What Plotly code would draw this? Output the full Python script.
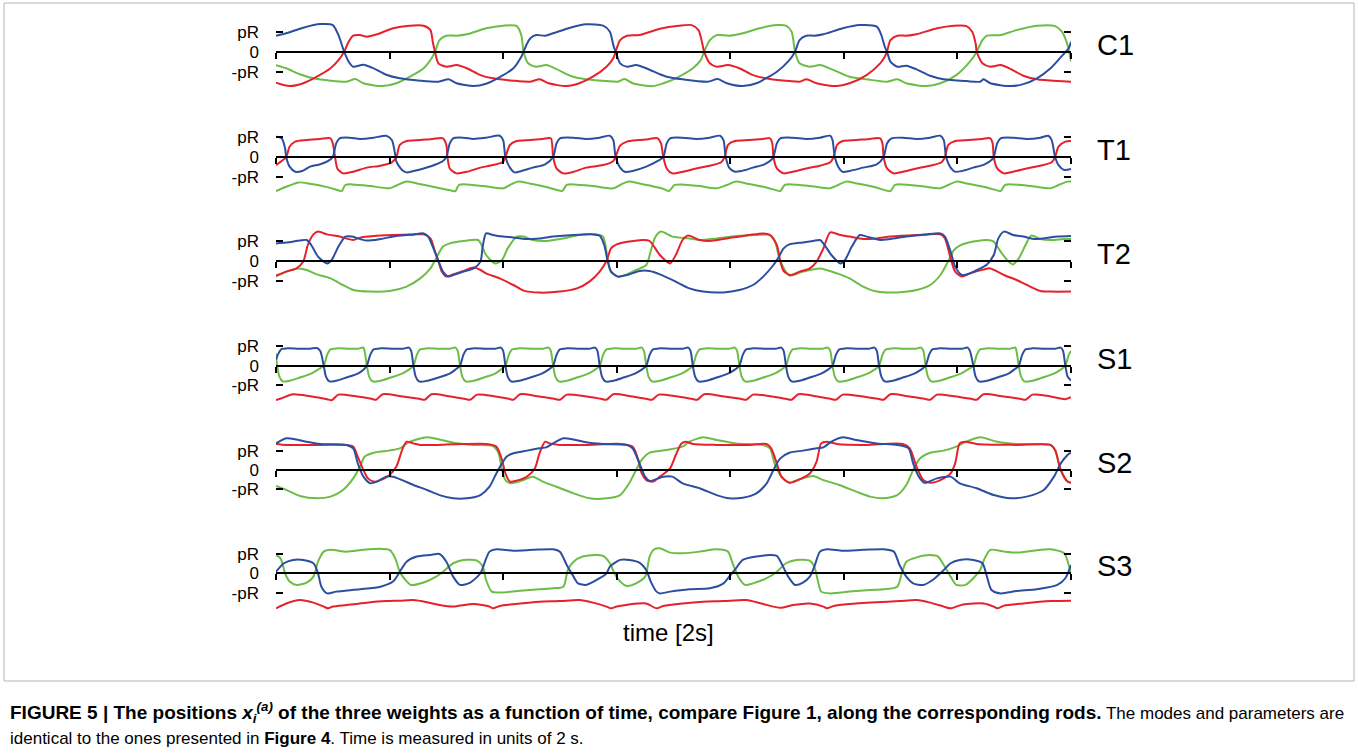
import plotly.graph_objects as go

# ---------------- data (time in units of 2 s, position in units of pR) ----------------
TIME_TICKS = [0, 1, 2, 3, 4, 5, 6, 7]
Y_TICK_VALUES = [-1, 0, 1]
Y_TICK_TEXT = ["-pR", "0", "pR"]
PANEL_LABELS = ["C1", "T1", "T2", "S1", "S2", "S3"]

C1_BLUE = [(0,0.8),(0.09,0.92),(0.24,1.2),(0.39,1.38),(0.5,1.33),(0.55,0.83),(0.6,0),(0.64,-0.5),(0.68,-0.75),(0.77,-0.65),(0.86,-0.83),(0.97,-1.15),(1.09,-1.33),(1.27,-1.45),(1.43,-1.5),(1.52,-1.38),(1.59,-1.58),(1.74,-1.72),(1.85,-1.6),(1.97,-1.27),(2.09,-0.83),(2.16,-0.25),(2.18,0),(2.21,0.4),(2.24,0.67),(2.29,0.83),(2.37,0.8),(2.44,0.92),(2.59,1.2),(2.73,1.37),(2.88,1.3),(2.94,1.0),(2.97,0.33),(2.99,0),(3.03,-0.58),(3.09,-0.75),(3.17,-0.67),(3.26,-0.83),(3.38,-1.13),(3.44,-1.25),(3.58,-1.38),(3.8,-1.5),(3.89,-1.37),(3.97,-1.58),(4.11,-1.72),(4.23,-1.58),(4.41,-1.0),(4.52,-0.42),(4.57,0),(4.61,0.58),(4.67,0.8),(4.74,0.8),(4.82,0.87),(4.99,1.17),(5.14,1.33),(5.29,1.25),(5.33,0.83),(5.36,0.25),(5.38,0),(5.41,-0.5),(5.47,-0.75),(5.55,-0.7),(5.64,-0.88),(5.76,-1.2),(5.88,-1.38),(6.08,-1.47),(6.2,-1.5),(6.23,-1.38),(6.29,-1.58),(6.47,-1.72),(6.58,-1.62),(6.7,-1.33),(6.82,-0.83),(6.94,-0.08),(6.98,0.17),(7.0,0.5)]
C1_RED = [(0,-1.55),(0.12,-1.72),(0.24,-1.58),(0.36,-1.25),(0.48,-0.83),(0.55,-0.42),(0.6,0),(0.64,0.5),(0.68,0.8),(0.74,0.83),(0.8,0.75),(0.89,0.87),(1.03,1.17),(1.18,1.3),(1.3,1.3),(1.36,1.08),(1.38,0.5),(1.4,0),(1.43,-0.58),(1.5,-0.75),(1.59,-0.67),(1.68,-0.83),(1.8,-1.17),(1.91,-1.33),(2.09,-1.45),(2.24,-1.5),(2.32,-1.38),(2.4,-1.58),(2.56,-1.72),(2.67,-1.58),(2.79,-1.25),(2.91,-0.75),(2.97,-0.33),(2.99,0),(3.03,0.58),(3.09,0.8),(3.2,0.83),(3.38,1.15),(3.55,1.3),(3.66,1.33),(3.72,1.08),(3.75,0.5),(3.77,0),(3.82,-0.58),(3.88,-0.75),(3.98,-0.67),(4.08,-0.83),(4.2,-1.17),(4.35,-1.37),(4.52,-1.47),(4.61,-1.5),(4.67,-1.38),(4.76,-1.58),(4.94,-1.72),(5.05,-1.58),(5.2,-1.17),(5.32,-0.58),(5.36,-0.25),(5.38,0),(5.41,0.58),(5.47,0.8),(5.55,0.8),(5.64,0.87),(5.82,1.17),(5.97,1.3),(6.08,1.28),(6.13,1.0),(6.16,0.42),(6.17,0),(6.22,-0.58),(6.29,-0.75),(6.38,-0.67),(6.47,-0.87),(6.58,-1.2),(6.7,-1.38),(6.88,-1.47),(7.0,-1.5)]
C1_GREEN = [(0,-0.67),(0.09,-0.83),(0.21,-1.13),(0.33,-1.33),(0.48,-1.45),(0.62,-1.5),(0.7,-1.37),(0.77,-1.58),(0.94,-1.72),(1.06,-1.58),(1.18,-1.25),(1.3,-0.83),(1.37,-0.33),(1.4,0),(1.44,0.58),(1.5,0.8),(1.59,0.8),(1.68,0.87),(1.85,1.17),(2.0,1.3),(2.12,1.28),(2.16,0.83),(2.18,0),(2.22,-0.58),(2.29,-0.75),(2.38,-0.67),(2.47,-0.87),(2.59,-1.2),(2.73,-1.38),(2.91,-1.47),(3.01,-1.5),(3.07,-1.37),(3.14,-1.58),(3.32,-1.72),(3.41,-1.58),(3.52,-1.33),(3.67,-0.83),(3.74,-0.42),(3.77,0),(3.82,0.58),(3.88,0.83),(3.99,0.8),(4.11,0.92),(4.26,1.17),(4.41,1.33),(4.49,1.3),(4.54,1.0),(4.57,0),(4.61,-0.58),(4.7,-0.75),(4.79,-0.67),(4.91,-0.92),(5.05,-1.25),(5.2,-1.38),(5.38,-1.5),(5.47,-1.38),(5.55,-1.58),(5.73,-1.72),(5.85,-1.58),(5.99,-1.17),(6.11,-0.5),(6.17,0),(6.22,0.58),(6.26,0.8),(6.38,0.83),(6.52,1.08),(6.7,1.3),(6.86,1.28),(6.92,1.0),(6.97,0.33),(7.0,-0.5)]

T1_BLUE = [(0,1.03),(0.05,0.95),(0.08,0.44),(0.09,0),(0.12,-0.49),(0.17,-0.75),(0.23,-0.71),(0.3,-0.49),(0.39,-0.37),(0.46,-0.2),(0.5,0),(0.53,0.69),(0.56,0.95),(0.65,0.98),(0.74,0.92),(0.86,0.98),(0.97,1.08),(1.02,0.86),(1.05,0.1),(1.06,-0.24),(1.11,-0.66),(1.15,-0.78),(1.21,-0.71),(1.3,-0.58),(1.41,-0.37),(1.47,-0.2),(1.5,0),(1.53,0.69),(1.56,0.95),(1.65,0.98),(1.74,0.92),(1.85,0.98),(1.97,1.08),(2.0,0.86),(2.02,0),(2.06,-0.54),(2.1,-0.78),(2.16,-0.71),(2.26,-0.54),(2.37,-0.37),(2.44,0),(2.47,0.69),(2.5,0.95),(2.62,0.98),(2.73,0.92),(2.85,0.98),(2.94,1.08),(2.97,0.86),(2.99,0),(3.03,-0.54),(3.07,-0.75),(3.14,-0.71),(3.26,-0.49),(3.35,-0.24),(3.41,0),(3.44,0.69),(3.47,0.95),(3.58,0.98),(3.7,0.92),(3.82,0.98),(3.91,1.08),(3.94,0.86),(3.96,0),(3.99,-0.54),(4.04,-0.75),(4.1,-0.71),(4.2,-0.54),(4.3,-0.37),(4.36,-0.15),(4.38,0),(4.41,0.69),(4.44,0.95),(4.55,0.98),(4.67,0.92),(4.79,0.98),(4.88,1.08),(4.9,0.86),(4.92,0),(4.95,-0.49),(4.99,-0.75),(5.05,-0.71),(5.17,-0.54),(5.29,-0.37),(5.35,0),(5.38,0.69),(5.42,0.95),(5.52,0.98),(5.64,0.92),(5.76,0.98),(5.85,1.08),(5.88,0.86),(5.9,0),(5.94,-0.54),(5.98,-0.75),(6.04,-0.71),(6.14,-0.54),(6.24,-0.37),(6.3,-0.15),(6.32,0),(6.35,0.69),(6.38,0.95),(6.49,0.98),(6.61,0.92),(6.73,0.98),(6.8,1.08),(6.83,0.86),(6.86,0),(6.89,-0.41),(6.94,-0.66),(7.0,-0.61)]
T1_RED = [(0,-0.41),(0.05,-0.2),(0.09,0),(0.12,0.53),(0.17,0.78),(0.27,0.86),(0.39,0.92),(0.48,0.95),(0.5,0.69),(0.52,0),(0.54,-0.58),(0.59,-0.83),(0.68,-0.75),(0.8,-0.54),(0.92,-0.44),(1.02,-0.27),(1.06,0),(1.09,0.61),(1.15,0.81),(1.27,0.86),(1.38,0.92),(1.47,0.95),(1.5,0.61),(1.51,0),(1.53,-0.58),(1.59,-0.83),(1.68,-0.75),(1.8,-0.54),(1.91,-0.41),(2.0,-0.24),(2.02,0),(2.06,0.61),(2.12,0.81),(2.24,0.86),(2.35,0.92),(2.42,0.95),(2.44,0),(2.47,-0.58),(2.53,-0.83),(2.62,-0.75),(2.73,-0.54),(2.88,-0.41),(2.97,-0.2),(2.99,0),(3.03,0.58),(3.09,0.78),(3.2,0.86),(3.29,0.92),(3.36,0.95),(3.39,0.69),(3.41,0),(3.44,-0.58),(3.49,-0.83),(3.58,-0.75),(3.7,-0.58),(3.82,-0.44),(3.92,-0.27),(3.95,0),(3.98,0.61),(4.04,0.81),(4.17,0.86),(4.29,0.92),(4.35,0.95),(4.37,0.69),(4.38,0),(4.41,-0.58),(4.47,-0.83),(4.55,-0.75),(4.67,-0.58),(4.79,-0.44),(4.88,-0.27),(4.91,0),(4.94,0.61),(4.99,0.81),(5.11,0.86),(5.23,0.92),(5.32,0.95),(5.34,0.69),(5.35,0),(5.38,-0.58),(5.44,-0.83),(5.52,-0.75),(5.64,-0.58),(5.76,-0.44),(5.86,-0.27),(5.89,0),(5.92,0.61),(5.98,0.81),(6.1,0.86),(6.22,0.92),(6.29,0.95),(6.31,0.69),(6.32,0),(6.35,-0.58),(6.41,-0.83),(6.49,-0.75),(6.61,-0.58),(6.73,-0.44),(6.83,-0.27),(6.86,0),(6.89,0.53),(6.95,0.78),(7.0,0.81)]
T1_GREEN = [(0,-1.73),(0.09,-1.51),(0.2,-1.29),(0.3,-1.36),(0.45,-1.53),(0.56,-1.71),(0.58,-1.73),(0.61,-1.42),(0.67,-1.39),(0.83,-1.47),(1.0,-1.59),(1.07,-1.42),(1.15,-1.25),(1.24,-1.34),(1.38,-1.51),(1.55,-1.71),(1.58,-1.73),(1.61,-1.42),(1.67,-1.39),(1.82,-1.47),(2.0,-1.59),(2.06,-1.42),(2.13,-1.25),(2.23,-1.34),(2.37,-1.51),(2.5,-1.71),(2.52,-1.73),(2.56,-1.42),(2.62,-1.39),(2.79,-1.47),(2.97,-1.59),(3.03,-1.42),(3.1,-1.25),(3.2,-1.34),(3.29,-1.45),(3.41,-1.62),(3.46,-1.73),(3.51,-1.42),(3.57,-1.39),(3.73,-1.47),(3.88,-1.59),(3.97,-1.42),(4.05,-1.25),(4.14,-1.34),(4.29,-1.51),(4.42,-1.71),(4.44,-1.73),(4.48,-1.42),(4.54,-1.39),(4.7,-1.47),(4.88,-1.59),(4.95,-1.42),(5.02,-1.25),(5.11,-1.34),(5.26,-1.51),(5.38,-1.71),(5.41,-1.73),(5.45,-1.42),(5.51,-1.39),(5.67,-1.47),(5.85,-1.59),(5.92,-1.42),(5.99,-1.25),(6.08,-1.34),(6.23,-1.51),(6.36,-1.71),(6.38,-1.73),(6.42,-1.42),(6.48,-1.39),(6.64,-1.47),(6.82,-1.59),(6.89,-1.42),(6.97,-1.25),(7.0,-1.25)]

T2_BLUE = [(0,0.88),(0.09,0.92),(0.21,1.02),(0.27,1.05),(0.31,0.8),(0.37,0.22),(0.42,-0.03),(0.45,-0.12),(0.49,0.05),(0.55,0.72),(0.61,1.22),(0.67,1.22),(0.74,1.1),(0.8,1.02),(0.92,1.1),(1.06,1.25),(1.21,1.33),(1.3,1.38),(1.34,1.22),(1.38,0.72),(1.43,0),(1.47,-0.53),(1.52,-0.78),(1.56,-0.7),(1.65,-0.53),(1.74,-0.37),(1.8,-0.03),(1.82,0.72),(1.85,1.38),(1.91,1.3),(2.0,1.22),(2.09,1.18),(2.2,1.1),(2.32,1.13),(2.44,1.22),(2.62,1.3),(2.79,1.33),(2.85,1.27),(2.89,0.8),(2.92,0),(2.95,-0.53),(3.01,-0.78),(3.09,-0.7),(3.2,-0.5),(3.29,-0.5),(3.38,-0.67),(3.52,-1.03),(3.64,-1.37),(3.76,-1.53),(3.94,-1.57),(4.08,-1.45),(4.2,-1.2),(4.29,-0.78),(4.38,-0.2),(4.42,0.13),(4.47,0.63),(4.52,0.83),(4.64,0.93),(4.73,1.0),(4.79,1.05),(4.83,0.8),(4.89,0.3),(4.97,-0.12),(5.01,0.05),(5.07,0.72),(5.14,1.3),(5.2,1.22),(5.32,1.05),(5.41,1.1),(5.55,1.22),(5.73,1.33),(5.85,1.38),(5.89,1.22),(5.94,0.47),(5.98,-0.28),(6.04,-0.7),(6.11,-0.62),(6.2,-0.37),(6.26,-0.17),(6.32,0.3),(6.36,1.13),(6.41,1.47),(6.49,1.3),(6.58,1.22),(6.67,1.1),(6.76,1.13),(6.88,1.22),(7.0,1.25)]
T2_RED = [(0,-0.73),(0.09,-0.53),(0.18,-0.37),(0.24,-0.03),(0.28,0.8),(0.33,1.33),(0.37,1.47),(0.45,1.33),(0.56,1.22),(0.68,1.05),(0.74,1.17),(0.86,1.25),(1.03,1.3),(1.21,1.33),(1.3,1.33),(1.36,1.13),(1.4,0.47),(1.43,0),(1.46,-0.53),(1.5,-0.78),(1.56,-0.67),(1.65,-0.5),(1.74,-0.33),(1.8,-0.45),(1.85,-0.62),(1.97,-0.87),(2.09,-1.2),(2.18,-1.48),(2.32,-1.58),(2.5,-1.53),(2.65,-1.37),(2.76,-1.03),(2.85,-0.53),(2.91,0),(2.95,0.63),(3.0,0.83),(3.11,0.97),(3.23,1.05),(3.29,1.0),(3.38,0.3),(3.47,-0.12),(3.52,0.3),(3.58,1.05),(3.63,1.27),(3.73,1.05),(3.82,1.0),(3.97,1.13),(4.17,1.3),(4.29,1.38),(4.35,1.3),(4.41,0.8),(4.44,0),(4.47,-0.5),(4.53,-0.7),(4.61,-0.53),(4.7,-0.37),(4.76,-0.03),(4.82,0.63),(4.88,1.43),(4.97,1.3),(5.05,1.22),(5.17,1.1),(5.29,1.13),(5.41,1.22),(5.64,1.3),(5.85,1.33),(5.89,1.13),(5.94,0.13),(5.98,-0.53),(6.04,-0.78),(6.11,-0.62),(6.23,-0.42),(6.29,-0.37),(6.41,-0.7),(6.52,-0.95),(6.64,-1.28),(6.73,-1.5),(6.82,-1.53),(7.0,-1.53)]
T2_GREEN = [(0,-0.78),(0.09,-0.53),(0.21,-0.37),(0.27,-0.45),(0.36,-0.67),(0.48,-0.87),(0.59,-1.2),(0.68,-1.45),(0.83,-1.53),(1.0,-1.5),(1.15,-1.28),(1.27,-0.87),(1.36,-0.37),(1.41,0.13),(1.47,0.72),(1.53,0.88),(1.65,1.0),(1.78,1.05),(1.81,0.8),(1.85,0.3),(1.93,-0.12),(1.99,0.05),(2.04,0.63),(2.12,1.22),(2.18,1.22),(2.26,1.05),(2.38,1.0),(2.53,1.13),(2.67,1.3),(2.82,1.33),(2.88,1.22),(2.92,0.13),(2.95,-0.53),(3.01,-0.78),(3.09,-0.67),(3.17,-0.45),(3.26,-0.2),(3.3,0.5),(3.34,1.2),(3.39,1.47),(3.49,1.22),(3.64,1.13),(3.73,1.05),(3.88,1.13),(4.05,1.25),(4.23,1.3),(4.35,1.3),(4.39,1.05),(4.44,0),(4.52,-0.73),(4.64,-0.53),(4.79,-0.37),(4.94,-0.62),(5.05,-0.87),(5.17,-1.28),(5.29,-1.53),(5.47,-1.57),(5.64,-1.45),(5.76,-1.2),(5.85,-0.7),(5.92,0),(5.97,0.55),(6.02,0.77),(6.14,0.97),(6.26,1.05),(6.32,0.97),(6.38,0.47),(6.45,-0.03),(6.49,-0.17),(6.54,0.13),(6.6,0.8),(6.65,1.27),(6.73,1.1),(6.82,1.05),(6.94,1.1),(7.0,1.1)]

S1_BLUE = [(0,0.3),(0.02,0.6),(0.05,0.85),(0.1,0.88),(0.2,0.86),(0.3,0.86),(0.36,0.9),(0.39,0.75),(0.42,0),(0.44,-0.55),(0.47,-0.8),(0.52,-0.78),(0.62,-0.6),(0.72,-0.4),(0.77,-0.2),(0.8,0),(0.83,0.55),(0.86,0.83),(0.92,0.88),(1.03,0.86),(1.12,0.86),(1.17,0.92),(1.19,0.75),(1.21,0),(1.23,-0.55),(1.26,-0.8),(1.32,-0.78),(1.43,-0.6),(1.53,-0.4),(1.58,-0.2),(1.62,0),(1.65,0.55),(1.68,0.83),(1.74,0.88),(1.84,0.86),(1.93,0.86),(1.98,0.92),(2.0,0.75),(2.02,0),(2.04,-0.55),(2.07,-0.8),(2.13,-0.78),(2.24,-0.6),(2.34,-0.4),(2.4,-0.2),(2.44,0),(2.47,0.55),(2.5,0.83),(2.56,0.88),(2.67,0.86),(2.76,0.86),(2.81,0.92),(2.83,0.75),(2.85,0),(2.87,-0.55),(2.9,-0.8),(2.96,-0.78),(3.06,-0.6),(3.16,-0.4),(3.22,-0.2),(3.26,0),(3.29,0.55),(3.32,0.83),(3.38,0.88),(3.48,0.86),(3.58,0.86),(3.63,0.92),(3.65,0.75),(3.67,0),(3.69,-0.55),(3.72,-0.8),(3.78,-0.78),(3.88,-0.6),(3.98,-0.4),(4.04,-0.2),(4.08,0),(4.11,0.55),(4.14,0.83),(4.2,0.88),(4.3,0.86),(4.4,0.86),(4.45,0.92),(4.47,0.75),(4.49,0),(4.51,-0.55),(4.54,-0.8),(4.6,-0.78),(4.7,-0.6),(4.8,-0.4),(4.86,-0.2),(4.9,0),(4.93,0.55),(4.96,0.83),(5.02,0.88),(5.12,0.86),(5.22,0.86),(5.27,0.92),(5.29,0.75),(5.31,0),(5.33,-0.55),(5.36,-0.8),(5.42,-0.78),(5.52,-0.6),(5.62,-0.4),(5.68,-0.2),(5.72,0),(5.75,0.55),(5.78,0.83),(5.84,0.88),(5.94,0.86),(6.04,0.86),(6.09,0.92),(6.11,0.75),(6.14,0),(6.16,-0.55),(6.19,-0.8),(6.25,-0.78),(6.35,-0.6),(6.45,-0.4),(6.5,-0.2),(6.54,0),(6.57,0.55),(6.6,0.83),(6.66,0.88),(6.76,0.86),(6.86,0.86),(6.91,0.92),(6.93,0.75),(6.95,0),(6.97,-0.55),(7.0,-0.75)]
S1_RED = [(0,-1.75),(0.05,-1.65),(0.15,-1.45),(0.3,-1.55),(0.45,-1.7),(0.49,-1.75),(0.55,-1.47),(0.7,-1.55),(0.84,-1.68),(0.88,-1.73),(0.94,-1.45),(1.1,-1.55),(1.26,-1.68),(1.31,-1.73),(1.37,-1.45),(1.52,-1.55),(1.66,-1.68),(1.71,-1.73),(1.77,-1.47),(1.92,-1.55),(2.05,-1.68),(2.09,-1.73),(2.15,-1.45),(2.3,-1.55),(2.45,-1.68),(2.5,-1.73),(2.56,-1.47),(2.72,-1.55),(2.86,-1.68),(2.91,-1.73),(2.97,-1.45),(3.12,-1.55),(3.26,-1.68),(3.31,-1.73),(3.37,-1.47),(3.52,-1.55),(3.66,-1.68),(3.71,-1.73),(3.77,-1.45),(3.93,-1.55),(4.09,-1.68),(4.14,-1.73),(4.2,-1.47),(4.35,-1.55),(4.49,-1.68),(4.54,-1.73),(4.6,-1.45),(4.75,-1.55),(4.88,-1.68),(4.93,-1.73),(4.99,-1.47),(5.15,-1.55),(5.3,-1.68),(5.35,-1.73),(5.41,-1.45),(5.56,-1.55),(5.71,-1.68),(5.76,-1.73),(5.82,-1.47),(5.97,-1.55),(6.12,-1.68),(6.17,-1.73),(6.23,-1.45),(6.39,-1.55),(6.55,-1.68),(6.6,-1.73),(6.66,-1.47),(6.81,-1.55),(6.95,-1.7),(7.0,-1.6)]
S1_GREEN = [(0,0.63),(0.01,0),(0.03,-0.55),(0.06,-0.8),(0.11,-0.78),(0.21,-0.6),(0.31,-0.4),(0.37,-0.2),(0.42,0),(0.45,0.55),(0.48,0.83),(0.54,0.88),(0.64,0.86),(0.72,0.86),(0.77,0.92),(0.78,0.75),(0.8,0),(0.82,-0.55),(0.85,-0.8),(0.91,-0.78),(1.01,-0.6),(1.11,-0.4),(1.17,-0.2),(1.21,0),(1.24,0.55),(1.27,0.83),(1.33,0.88),(1.43,0.86),(1.53,0.86),(1.58,0.92),(1.6,0.75),(1.62,0),(1.64,-0.55),(1.67,-0.8),(1.73,-0.78),(1.83,-0.6),(1.93,-0.4),(1.98,-0.2),(2.02,0),(2.05,0.55),(2.08,0.83),(2.14,0.88),(2.25,0.86),(2.35,0.86),(2.4,0.92),(2.42,0.75),(2.44,0),(2.46,-0.55),(2.49,-0.8),(2.55,-0.78),(2.65,-0.6),(2.75,-0.4),(2.81,-0.2),(2.85,0),(2.88,0.55),(2.91,0.83),(2.97,0.88),(3.07,0.86),(3.17,0.86),(3.22,0.92),(3.24,0.75),(3.26,0),(3.28,-0.55),(3.31,-0.8),(3.37,-0.78),(3.47,-0.6),(3.57,-0.4),(3.63,-0.2),(3.67,0),(3.7,0.55),(3.73,0.83),(3.79,0.88),(3.89,0.86),(3.99,0.86),(4.04,0.92),(4.06,0.75),(4.08,0),(4.1,-0.55),(4.13,-0.8),(4.19,-0.78),(4.29,-0.6),(4.39,-0.4),(4.45,-0.2),(4.49,0),(4.52,0.55),(4.55,0.83),(4.61,0.88),(4.71,0.86),(4.81,0.86),(4.86,0.92),(4.88,0.75),(4.9,0),(4.92,-0.55),(4.95,-0.8),(5.01,-0.78),(5.11,-0.6),(5.21,-0.4),(5.27,-0.2),(5.31,0),(5.34,0.55),(5.37,0.83),(5.43,0.88),(5.53,0.86),(5.63,0.86),(5.68,0.92),(5.7,0.75),(5.72,0),(5.74,-0.55),(5.77,-0.8),(5.83,-0.78),(5.93,-0.6),(6.03,-0.4),(6.09,-0.2),(6.14,0),(6.17,0.55),(6.2,0.83),(6.26,0.88),(6.36,0.86),(6.46,0.86),(6.51,0.92),(6.52,0.75),(6.54,0),(6.56,-0.55),(6.59,-0.8),(6.65,-0.78),(6.75,-0.6),(6.85,-0.4),(6.91,-0.2),(6.95,0),(6.98,0.55),(7.0,0.75)]

S2_BLUE = [(0,1.4),(0.09,1.67),(0.18,1.61),(0.27,1.49),(0.39,1.37),(0.62,1.32),(0.68,1.14),(0.72,0.35),(0.77,-0.35),(0.83,-0.7),(0.89,-0.61),(0.97,-0.35),(1.03,-0.35),(1.11,-0.53),(1.21,-0.79),(1.33,-1.05),(1.44,-1.32),(1.56,-1.49),(1.68,-1.49),(1.8,-1.32),(1.88,-0.88),(1.94,-0.18),(1.99,0.35),(2.03,0.7),(2.09,0.88),(2.21,1.02),(2.32,1.14),(2.38,1.19),(2.44,1.4),(2.53,1.67),(2.62,1.61),(2.73,1.46),(2.88,1.37),(3.09,1.32),(3.14,1.14),(3.2,0.35),(3.25,-0.35),(3.29,-0.58),(3.41,-0.35),(3.49,-0.35),(3.58,-0.7),(3.73,-0.96),(3.88,-1.32),(3.99,-1.49),(4.11,-1.46),(4.23,-1.23),(4.32,-0.7),(4.38,0),(4.44,0.61),(4.52,0.91),(4.64,1.02),(4.76,1.14),(4.82,1.19),(4.89,1.49),(4.99,1.72),(5.11,1.58),(5.29,1.4),(5.47,1.32),(5.57,1.14),(5.61,0.35),(5.66,-0.35),(5.71,-0.67),(5.82,-0.44),(5.94,-0.35),(6.02,-0.7),(6.17,-0.96),(6.32,-1.32),(6.47,-1.49),(6.61,-1.4),(6.76,-1.05),(6.85,-0.35),(6.91,0.35),(6.97,0.79),(7.0,0.91)]
S2_RED = [(0,1.37),(0.09,1.32),(0.39,1.32),(0.62,1.32),(0.68,1.23),(0.72,0.7),(0.77,0),(0.81,-0.44),(0.86,-0.61),(0.92,-0.53),(1.0,-0.26),(1.06,0.18),(1.11,1.05),(1.15,1.49),(1.21,1.4),(1.27,1.32),(1.56,1.35),(1.85,1.37),(1.94,1.23),(1.99,0.53),(2.02,-0.18),(2.06,-0.61),(2.12,-0.56),(2.21,-0.35),(2.28,0.09),(2.32,0.88),(2.37,1.49),(2.41,1.4),(2.5,1.32),(2.73,1.32),(3.03,1.37),(3.14,1.23),(3.19,0.53),(3.22,-0.18),(3.26,-0.53),(3.32,-0.61),(3.38,-0.35),(3.47,0.09),(3.52,0.79),(3.57,1.4),(3.61,1.49),(3.67,1.37),(3.88,1.32),(4.17,1.32),(4.32,1.37),(4.36,1.14),(4.41,0.35),(4.45,-0.35),(4.52,-0.67),(4.61,-0.49),(4.7,-0.18),(4.76,0.44),(4.8,1.4),(4.85,1.49),(4.94,1.37),(5.2,1.32),(5.52,1.37),(5.58,1.14),(5.64,0.18),(5.7,-0.53),(5.76,-0.67),(5.85,-0.53),(5.94,-0.18),(5.98,0.35),(6.02,1.4),(6.07,1.49),(6.17,1.37),(6.52,1.32),(6.82,1.32),(6.86,1.05),(6.91,0),(6.97,-0.61),(7.0,-0.67)]
S2_GREEN = [(0,-0.84),(0.09,-1.05),(0.21,-1.37),(0.36,-1.49),(0.48,-1.4),(0.59,-1.05),(0.68,-0.44),(0.74,0.18),(0.78,0.7),(0.86,0.91),(0.97,1.0),(1.09,1.14),(1.18,1.49),(1.33,1.72),(1.44,1.61),(1.56,1.44),(1.74,1.32),(1.91,1.26),(1.96,0.88),(1.99,0),(2.02,-0.53),(2.07,-0.7),(2.18,-0.53),(2.26,-0.35),(2.35,-0.61),(2.47,-0.88),(2.62,-1.23),(2.76,-1.49),(2.91,-1.49),(3.03,-1.32),(3.11,-0.7),(3.17,0),(3.22,0.53),(3.29,0.91),(3.44,1.05),(3.58,1.23),(3.64,1.49),(3.76,1.72),(3.88,1.58),(4.05,1.4),(4.29,1.32),(4.35,1.14),(4.39,0.35),(4.45,-0.35),(4.52,-0.67),(4.61,-0.49),(4.73,-0.32),(4.82,-0.53),(4.96,-0.79),(5.11,-1.14),(5.23,-1.4),(5.35,-1.49),(5.47,-1.32),(5.55,-0.79),(5.61,0),(5.67,0.61),(5.76,0.91),(5.88,1.02),(5.99,1.23),(6.08,1.49),(6.2,1.72),(6.35,1.49),(6.52,1.37),(6.82,1.32),(6.86,1.05),(6.91,0),(6.97,-0.61),(7.0,-0.67)]

S3_BLUE = [(0,0.08),(0.07,0.51),(0.15,0.68),(0.24,0.68),(0.33,0.51),(0.37,0),(0.4,-0.68),(0.45,-1.02),(0.53,-0.93),(0.74,-0.81),(0.92,-0.68),(1.03,-0.42),(1.09,0.08),(1.15,0.59),(1.24,0.85),(1.36,0.93),(1.44,0.98),(1.5,0.59),(1.56,-0.17),(1.62,-0.59),(1.71,-0.47),(1.8,0),(1.84,0.59),(1.88,1.1),(1.94,1.22),(2.09,1.15),(2.26,1.19),(2.44,1.22),(2.5,1.1),(2.56,0.42),(2.62,-0.17),(2.66,-0.51),(2.73,-0.59),(2.85,-0.25),(2.91,0),(2.94,0.34),(3.03,0.68),(3.11,0.68),(3.2,0.54),(3.26,0.17),(3.3,-0.42),(3.35,-0.93),(3.38,-1.02),(3.47,-0.93),(3.64,-0.81),(3.82,-0.76),(3.94,-0.51),(3.99,-0.17),(4.04,0.17),(4.11,0.68),(4.23,0.85),(4.35,0.93),(4.41,0.88),(4.45,0.51),(4.51,-0.17),(4.57,-0.59),(4.64,-0.47),(4.7,-0.17),(4.74,0.34),(4.79,1.1),(4.85,1.22),(4.99,1.15),(5.17,1.19),(5.35,1.22),(5.44,1.1),(5.49,0.42),(5.55,-0.17),(5.61,-0.51),(5.7,-0.59),(5.79,-0.3),(5.88,0.17),(5.94,0.51),(6.02,0.68),(6.14,0.68),(6.22,0.51),(6.26,-0.17),(6.3,-0.85),(6.38,-1.02),(6.52,-0.9),(6.7,-0.81),(6.88,-0.59),(6.95,-0.25),(7.0,0.42)]
S3_RED = [(0,-1.78),(0.09,-1.53),(0.21,-1.36),(0.33,-1.49),(0.42,-1.69),(0.46,-1.78),(0.5,-1.69),(0.62,-1.61),(0.8,-1.49),(0.97,-1.41),(1.09,-1.39),(1.21,-1.36),(1.33,-1.47),(1.44,-1.61),(1.56,-1.69),(1.62,-1.64),(1.74,-1.56),(1.88,-1.69),(1.91,-1.78),(1.97,-1.66),(2.15,-1.53),(2.32,-1.44),(2.5,-1.41),(2.67,-1.36),(2.79,-1.49),(2.91,-1.69),(2.95,-1.78),(3.0,-1.69),(3.11,-1.58),(3.26,-1.53),(3.35,-1.78),(3.41,-1.66),(3.58,-1.53),(3.76,-1.44),(3.94,-1.41),(4.14,-1.36),(4.29,-1.56),(4.44,-1.75),(4.55,-1.61),(4.7,-1.53),(4.82,-1.69),(4.85,-1.78),(4.91,-1.66),(5.05,-1.56),(5.29,-1.47),(5.49,-1.41),(5.64,-1.36),(5.76,-1.49),(5.88,-1.69),(5.94,-1.78),(6.05,-1.58),(6.23,-1.53),(6.32,-1.69),(6.35,-1.78),(6.41,-1.64),(6.58,-1.53),(6.82,-1.41),(7.0,-1.39)]
S3_GREEN = [(0,0.93),(0.04,0.76),(0.08,0),(0.12,-0.42),(0.18,-0.59),(0.27,-0.47),(0.33,-0.17),(0.37,0.59),(0.42,1.1),(0.48,1.19),(0.62,1.1),(0.77,1.19),(0.92,1.24),(1.0,1.19),(1.05,0.76),(1.09,0.08),(1.14,-0.34),(1.19,-0.59),(1.3,-0.47),(1.41,-0.17),(1.47,0.08),(1.56,0.51),(1.65,0.68),(1.77,0.64),(1.82,0.34),(1.85,-0.34),(1.9,-0.93),(1.97,-0.98),(2.15,-0.88),(2.32,-0.81),(2.44,-0.76),(2.53,-0.68),(2.57,0.17),(2.62,0.59),(2.7,0.85),(2.82,0.93),(2.88,0.88),(2.94,0.51),(2.98,0),(3.03,-0.42),(3.09,-0.64),(3.17,-0.51),(3.25,-0.17),(3.29,0.85),(3.33,1.22),(3.38,1.27),(3.47,1.05),(3.58,1.02),(3.73,1.1),(3.88,1.22),(3.98,1.1),(4.02,0.51),(4.07,-0.17),(4.13,-0.59),(4.2,-0.51),(4.32,-0.25),(4.41,0.08),(4.49,0.51),(4.58,0.68),(4.7,0.64),(4.74,0.34),(4.77,-0.34),(4.8,-0.93),(4.88,-1.02),(5.05,-0.93),(5.23,-0.85),(5.35,-0.81),(5.47,-0.68),(5.51,0),(5.55,0.59),(5.64,0.81),(5.76,0.93),(5.83,0.85),(5.88,0.42),(5.94,-0.17),(5.99,-0.59),(6.07,-0.59),(6.14,-0.25),(6.2,0.17),(6.24,0.76),(6.29,1.19),(6.41,1.1),(6.52,1.05),(6.67,1.15),(6.82,1.22),(6.94,1.02),(6.98,0.42),(7.0,-0.08)]

PANELS = [
    (C1_BLUE, C1_RED, C1_GREEN),
    (T1_BLUE, T1_RED, T1_GREEN),
    (T2_BLUE, T2_RED, T2_GREEN),
    (S1_BLUE, S1_RED, S1_GREEN),
    (S2_BLUE, S2_RED, S2_GREEN),
    (S3_BLUE, S3_RED, S3_GREEN),
]

# ---------------- styling / geometry ----------------
W, H = 1358, 756
X_LEFT_PX, X_RIGHT_PX = 276, 1071
ZERO_PX = [51.7, 157, 261, 365.7, 470, 573.3]
UNIT_PX = [20, 19.7, 20, 19.7, 19, 19.7]
ABOVE_PX, BELOW_PX = 38, 40
BLUE, RED, GREEN = "#2c4ea0", "#e6212b", "#6cbd46"
FONT = "Liberation Sans, Arial, Helvetica, sans-serif"

fig = go.Figure()
layout = dict(
    width=W, height=H, margin=dict(l=0, r=0, t=0, b=0),
    paper_bgcolor="white", plot_bgcolor="white", showlegend=False,
    font=dict(family=FONT, color="black"),
)

annotations = []
for i, (blue, red, green) in enumerate(PANELS):
    n = i + 1
    xa = "x" if n == 1 else f"x{n}"
    ya = "y" if n == 1 else f"y{n}"
    z, u = ZERO_PX[i], UNIT_PX[i]
    for series, col in ((green, GREEN), (red, RED), (blue, BLUE)):
        fig.add_trace(go.Scatter(
            x=[p[0] for p in series], y=[p[1] for p in series],
            mode="lines", line=dict(color=col, width=2, shape="spline", smoothing=0.7),
            xaxis=xa, yaxis=ya, hoverinfo="skip"))
    dom = [1 - (z + BELOW_PX) / H, 1 - (z - ABOVE_PX) / H]
    layout["xaxis" if n == 1 else f"xaxis{n}"] = dict(
        domain=[X_LEFT_PX / W, X_RIGHT_PX / W], range=[0, 7],
        anchor="free", position=1 - z / H,
        showline=True, linecolor="black", linewidth=2,
        ticks="outside", ticklen=6, tickwidth=1.5, tickcolor="black",
        tickvals=TIME_TICKS, showticklabels=False, showgrid=False, zeroline=False)
    layout["yaxis" if n == 1 else f"yaxis{n}"] = dict(
        domain=dom, range=[-BELOW_PX / u, ABOVE_PX / u], anchor=xa,
        showline=False, showgrid=False, zeroline=False,
        ticks="inside", ticklen=7, tickwidth=1.5, tickcolor="black", mirror="ticks",
        tickvals=Y_TICK_VALUES, ticktext=Y_TICK_TEXT, ticklabelstandoff=16,
        tickfont=dict(size=17, family=FONT, color="black"))
    annotations.append(dict(
        text=PANEL_LABELS[i], xref="paper", yref="paper",
        x=1095 / W, y=1 - (z - 7) / H, xanchor="left", yanchor="middle",
        showarrow=False, font=dict(size=29, family=FONT, color="black")))

annotations.append(dict(
    text="time [2s]", xref="paper", yref="paper", x=668 / W, y=1 - 632 / H,
    xanchor="center", yanchor="middle", showarrow=False,
    font=dict(size=24, family=FONT, color="black")))
annotations.append(dict(
    text=("<span style=\"font-size:19px\"><b>FIGURE 5 | The positions <i>x</i><sub><i>i</i></sub>"
          "<sup><i>(a)</i></sup> of the three weights as a function of time, compare Figure 1, "
          "along the corresponding rods.</b></span> The modes and parameters are"),
    xref="paper", yref="paper", x=8 / W, y=1 - 712 / H, xanchor="left", yanchor="middle",
    showarrow=False, align="left", font=dict(size=17, family=FONT, color="black")))
annotations.append(dict(
    text="identical to the ones presented in <b>Figure 4</b>. Time is measured in units of 2 s.",
    xref="paper", yref="paper", x=8 / W, y=1 - 738 / H, xanchor="left", yanchor="middle",
    showarrow=False, align="left", font=dict(size=17, family=FONT, color="black")))
layout["annotations"] = annotations
layout["shapes"] = [dict(type="rect", xref="paper", yref="paper",
                         x0=4 / W, x1=1354 / W, y0=1 - 681 / H, y1=1 - 3 / H,
                         line=dict(color="#b5b5b5", width=1), fillcolor="rgba(0,0,0,0)")]
fig.update_layout(**layout)

fig.write_html("out.html", config={"displayModeBar": False},
               post_script="document.body.style.margin='0';document.body.style.overflow='hidden';")
